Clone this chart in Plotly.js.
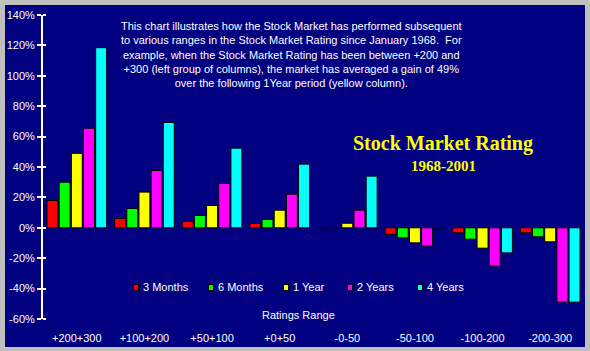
<!DOCTYPE html>
<html><head><meta charset="utf-8">
<script src="https://cdn.plot.ly/plotly-3.0.1.min.js"></script>
<style>
html,body{margin:0;padding:0;background:#c0c0c0;width:590px;height:351px;overflow:hidden;}
#chart{position:absolute;left:5px;top:5px;width:580px;height:342px;}
</style></head><body>
<div id="chart"></div>
<script>
const categories = ['+200+300','+100+200','+50+100','+0+50','-0-50','-50-100','-100-200','-200-300'];
const seriesNames = ['3 Months','6 Months','1 Year','2 Years','4 Years'];
const seriesColors = ['#ff0000','#00ff00','#ffff00','#ff00ff','#00ffff'];
const months3 = [18, 6.1, 4.2, 2.8, 0.1, -4.2, -3.3, -3.3];
const months6 = [30, 12.7, 8.1, 5.5, 0.1, -6.6, -7.5, -5.9];
const year1   = [49, 23.5, 14.7, 11.6, 3, -9.9, -13.4, -9.2];
const years2  = [65.5, 37.7, 29.1, 22.1, 11.6, -12, -25.2, -48.9];
const years4  = [118.5, 69.3, 52.4, 41.9, 34, -0.1, -16.5, -48.9];
const seriesValues = [months3, months6, year1, years2, years4];
const yTickVals = [-60,-40,-20,0,20,40,60,80,100,120,140];

const traces = seriesValues.map((vals, i) => ({
  type: 'bar', x: categories, y: vals, name: seriesNames[i],
  marker: {color: seriesColors[i], line: {color: '#000000', width: 1}},
  showlegend: false, hoverinfo: 'none'
}));

// pixel helpers relative to plot area
const PX0 = 43, PW = 541, PY0 = 15, PH = 304;
const px = p => (p - PX0) / PW;
const py = p => 1 - (p - PY0) / PH;
const font = 'Liberation Sans, Arial, sans-serif';

const annotations = [
  {xref:'paper', yref:'paper', x: px(291), y: py(54.3), xanchor:'center', yanchor:'middle', showarrow:false, align:'center',
   text: 'This chart illustrates how the Stock Market has performed subsequent<br>to various ranges in the Stock Market Rating since January 1968.&nbsp; For<br>example, when the Stock Market Rating has been between +200 and<br>+300 (left group of columns), the market has averaged a gain of 49%<br>over the following 1Year period (yellow column).',
   font:{family: font, size: 11, color:'#ffffff'}},
  {xref:'paper', yref:'paper', x: px(443), y: py(143.3), xanchor:'center', yanchor:'middle', showarrow:false,
   text:'<b>Stock Market Rating</b>', font:{family:'Liberation Serif, Times New Roman, serif', size:20, color:'#ffff00'}},
  {xref:'paper', yref:'paper', x: px(443), y: py(165.7), xanchor:'center', yanchor:'middle', showarrow:false,
   text:'<b>1968-2001</b>', font:{family:'Liberation Serif, Times New Roman, serif', size:15, color:'#ffff00'}},
  {xref:'paper', yref:'paper', x: px(298.5), y: py(315), xanchor:'center', yanchor:'middle', showarrow:false,
   text:'Ratings Range', font:{family: font, size: 11, color:'#ffffff'}}
];
const legendLeft = [132.7, 207.7, 282.7, 346.7, 417.3];
seriesNames.forEach((n, i) => {
  annotations.push({xref:'paper', yref:'paper', x: px(legendLeft[i] + 3), y: py(287), xanchor:'center', yanchor:'middle',
    showarrow:false, text:' ', width:4, height:5, bgcolor: seriesColors[i], bordercolor:'#000000', borderwidth:1, borderpad:0,
    font:{size:4}});
  annotations.push({xref:'paper', yref:'paper', x: px(legendLeft[i] + 8), y: py(287), xanchor:'left', yanchor:'middle',
    showarrow:false, text:n, font:{family: font, size: 11, color:'#ffffff'}});
});

const layout = {
  width: 580, height: 342,
  margin: {l: 38, r: 1, t: 10, b: 28},
  paper_bgcolor: '#000080', plot_bgcolor: '#000080',
  barmode: 'group', bargap: 0.1, bargroupgap: 0.1,
  showlegend: false,
  font: {family: font, size: 11, color: '#ffffff'},
  xaxis: {type:'category', showline:false, showgrid:false, zeroline:false, ticks:'outside', ticklen:9, tickcolor:'rgba(0,0,0,0)',
          tickfont:{family: font, size: 11, color:'#ffffff'}},
  yaxis: {range:[-60,140], tickvals: yTickVals, ticktext: yTickVals.map(v => v + '%'), showgrid:false, zeroline:false,
          showline:true, linecolor:'#ffffff', linewidth:2, ticks:'outside', ticklen:4, tickwidth:2, tickcolor:'#ffffff',
          minor: {tickvals: yTickVals, ticks:'inside', ticklen:3, tickwidth:2, tickcolor:'#ffffff', showgrid:false},
          tickfont:{family: font, size: 11, color:'#ffffff'}},
  annotations: annotations
};
Plotly.newPlot('chart', traces, layout, {displayModeBar:false, staticPlot:true});
</script>
</body></html>
